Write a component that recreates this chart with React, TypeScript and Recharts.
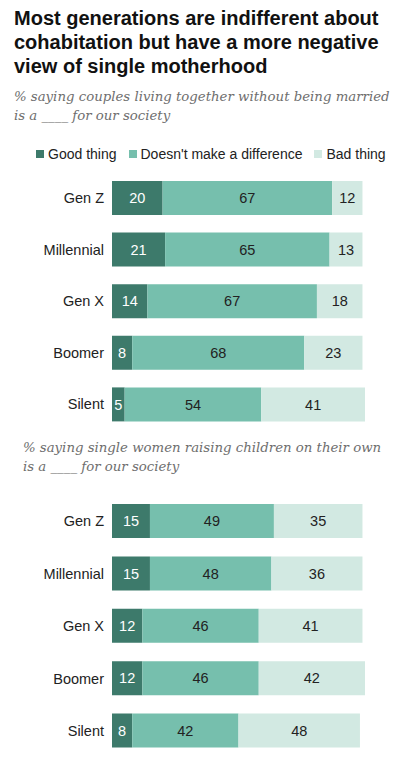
import { BarChart, Bar, XAxis, YAxis, LabelList } from "recharts";

const generations = ["Gen Z", "Millennial", "Gen X", "Boomer", "Silent"];

// cohabitation
const cohabGood = [20, 21, 14, 8, 5];
const cohabSame = [67, 65, 67, 68, 54];
const cohabBad = [12, 13, 18, 23, 41];

// single motherhood
const singleGood = [15, 15, 12, 12, 8];
const singleSame = [49, 48, 46, 46, 42];
const singleBad = [35, 36, 41, 42, 48];

const seriesNames = ["Good thing", "Doesn't make a difference", "Bad thing"];

const DARK = "#3d7a6b";
const MID = "#76bfad";
const LIGHT = "#d2e9e2";
const colors = [DARK, MID, LIGHT];

const sans = "'Liberation Sans', Arial, sans-serif";
const serif = "'DejaVu Serif', Georgia, serif";

function rows(good: number[], same: number[], bad: number[]) {
  return generations.map((g, i) => ({ gen: g, good: good[i], same: same[i], bad: bad[i] }));
}

const labelStyle = { fontFamily: sans, fontSize: 14.5 };

function GenChart({ data, height }: { data: ReturnType<typeof rows>; height: number }) {
  return (
    <BarChart
      width={396}
      height={height}
      data={data}
      layout="vertical"
      margin={{ top: 0, right: 31, bottom: 0, left: 0 }}
      barSize={34}
    >
      <XAxis type="number" domain={[0, 100]} hide />
      <YAxis
        type="category"
        dataKey="gen"
        width={112}
        axisLine={false}
        tickLine={false}
        tick={{ fill: "#222", fontSize: 14.5, fontFamily: sans }}
      />
      <Bar dataKey="good" stackId="s" fill={DARK} isAnimationActive={false}>
        <LabelList dataKey="good" position="center" fill="#fff" style={labelStyle} />
      </Bar>
      <Bar dataKey="same" stackId="s" fill={MID} isAnimationActive={false}>
        <LabelList dataKey="same" position="center" fill="#222" style={labelStyle} />
      </Bar>
      <Bar dataKey="bad" stackId="s" fill={LIGHT} isAnimationActive={false}>
        <LabelList dataKey="bad" position="center" fill="#222" style={labelStyle} />
      </Bar>
    </BarChart>
  );
}

export default function App() {
  const subStyle = {
    position: "absolute" as const,
    fontFamily: serif,
    fontStyle: "italic",
    fontSize: 13.3,
    lineHeight: "19px",
    color: "#6e6e6e",
    margin: 0,
    whiteSpace: "nowrap" as const,
  };
  return (
    <div style={{ position: "absolute", left: 0, top: 0, width: 396, height: 757, background: "#fff", overflow: "hidden" }}>
      <div
        style={{
          position: "absolute",
          left: 14,
          top: 6,
          width: 380,
          fontFamily: sans,
          fontWeight: 700,
          fontSize: 20,
          lineHeight: "24px",
          color: "#111",
        }}
      >
        Most generations are indifferent about cohabitation but have a more negative view of single motherhood
      </div>
      <div style={{ ...subStyle, left: 14, top: 87 }}>
        % saying couples living together without being married
        <br />
        is a ____ for our society
      </div>

      {/* legend */}
      <div
        style={{
          position: "absolute",
          top: 146,
          left: 36,
          display: "flex",
          alignItems: "center",
          fontFamily: sans,
          fontSize: 14,
          color: "#222",
          whiteSpace: "nowrap",
        }}
      >
        {seriesNames.map((n, i) => (
          <span key={n} style={{ display: "flex", alignItems: "center", marginRight: i < 2 ? 12 : 0 }}>
            <span style={{ width: 8, height: 8, background: colors[i], display: "inline-block", marginRight: 4 }} />
            {n}
          </span>
        ))}
      </div>

      <div style={{ position: "absolute", left: 0, top: 172 }}>
        <GenChart data={rows(cohabGood, cohabSame, cohabBad)} height={258} />
      </div>

      <div style={{ ...subStyle, left: 23, top: 438 }}>
        % saying single women raising children on their own
        <br />
        is a ____ for our society
      </div>

      <div style={{ position: "absolute", left: 0, top: 495 }}>
        <GenChart data={rows(singleGood, singleSame, singleBad)} height={262} />
      </div>
    </div>
  );
}
